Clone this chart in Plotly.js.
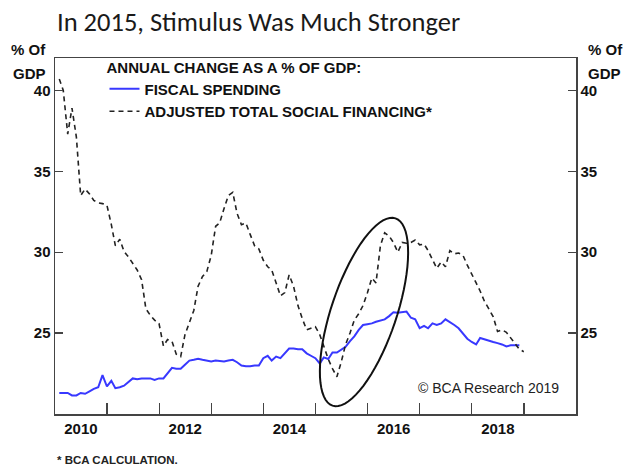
<!DOCTYPE html>
<html>
<head>
<meta charset="utf-8">
<script src="https://cdn.plot.ly/plotly-3.0.1.min.js"></script>
<style>
html,body{margin:0;padding:0;background:#fff;}
#chart{width:629px;height:467px;}
</style>
</head>
<body>
<div id="chart"></div>
<script>
// Monthly observations, first value = Jan 2010
const firstYear = 2010;
const tsfValues = [
  40.7, 40.0, 37.3, 38.9, 37.1, 33.5, 33.9, 33.6, 33.2, 33.05, 33.0, 32.9,
  31.7, 30.4, 30.8, 30.05, 29.7, 29.3, 28.9, 28.3, 26.5, 26.1, 25.8, 25.6,
  24.2, 24.6, 24.5, 23.7, 23.55, 24.9, 25.6, 26.4, 27.9, 28.5, 28.8, 29.8,
  31.6, 31.8, 32.7, 33.5, 33.7, 32.4, 31.7, 31.8, 31.1, 30.4, 30.2, 29.5,
  29.1, 28.9, 28.1, 27.3, 27.5, 28.6, 27.9, 26.7, 25.9, 25.2, 25.3, 25.4,
  24.9, 24.2, 23.4, 22.8, 22.3, 23.2, 24.3, 25.0, 25.8, 26.2, 26.7, 27.5,
  28.4, 28.1, 30.4, 31.2, 31.0, 30.6, 30.0, 30.6, 30.55, 30.6, 30.75, 30.45,
  30.5, 30.1, 29.5, 29.0, 29.4, 29.1, 30.1, 29.9, 29.95, 29.8, 29.2, 28.6,
  28.1, 27.6, 26.95, 26.5, 26.0, 25.1, 25.2, 25.05, 24.7, 24.4, 24.0, 23.85
];
const fiscalValues = [
  21.3, 21.3, 21.3, 21.15, 21.15, 21.3, 21.25, 21.4, 21.55, 21.65, 22.4, 21.7,
  22.05, 21.6, 21.65, 21.75, 21.95, 22.2, 22.15, 22.2, 22.2, 22.2, 22.1, 22.2,
  22.2, 22.5, 22.85, 22.8, 22.8, 23.05, 23.3, 23.35, 23.42, 23.35, 23.3, 23.25,
  23.3, 23.28, 23.25, 23.3, 23.35, 23.2, 23.0, 22.95, 22.95, 23.0, 23.0, 23.45,
  23.6, 23.3, 23.55, 23.45, 23.75, 24.05, 24.05, 24.0, 24.0, 23.75, 23.6, 23.45,
  23.12, 23.5, 23.4, 23.8, 23.8, 23.95, 24.15, 24.5, 24.8, 25.2, 25.5, 25.55,
  25.6, 25.7, 25.8, 25.85, 26.05, 26.29, 26.25, 26.28, 26.33, 25.95, 25.85, 25.3,
  25.45, 25.3, 25.6, 25.5, 25.6, 25.85, 25.7, 25.5, 25.3, 25.0, 24.65, 24.45,
  24.3, 24.7, 24.6, 24.55, 24.45, 24.38, 24.3, 24.17, 24.25, 24.25, 24.25
];
const yTickVals = [25, 30, 35, 40];
const xLabelYears = [2010, 2012, 2014, 2016, 2018];

function monthEnd(i) { // i = 0 -> end of Jan of firstYear
  const d = new Date(Date.UTC(firstYear, i + 1, 0));
  return d.toISOString().slice(0, 10);
}
const tsfDates = tsfValues.map((v, i) => monthEnd(i));
const fiscalDates = fiscalValues.map((v, i) => monthEnd(i));

const FONT = 'Liberation Sans, Arial, sans-serif';
const W = 629, H = 467;
const M = {l: 55, r: 53, t: 58, b: 53};
const PW = W - M.l - M.r, PH = H - M.t - M.b;

// Ellipse highlight (pixel geometry converted to paper coords)
function ellipsePath(cx, cy, a, b, thetaDeg) {
  const th = thetaDeg * Math.PI / 180;
  let p = '';
  for (let k = 0; k <= 72; k++) {
    const t = k / 72 * 2 * Math.PI;
    const px = cx + a * Math.cos(t) * Math.cos(th) - b * Math.sin(t) * Math.sin(th);
    const py = cy - (a * Math.cos(t) * Math.sin(th) + b * Math.sin(t) * Math.cos(th));
    const xp = (px - M.l) / PW, yp = (H - M.b - py) / PH;
    p += (k === 0 ? 'M' : 'L') + xp.toFixed(4) + ',' + yp.toFixed(4);
  }
  return p + 'Z';
}

const traces = [
  {
    x: fiscalDates, y: fiscalValues, type: 'scatter', mode: 'lines',
    name: 'FISCAL SPENDING', legendgroup: 'a',
    line: {color: '#3838ff', width: 2}
  },
  {
    x: tsfDates, y: tsfValues, type: 'scatter', mode: 'lines',
    name: 'ADJUSTED TOTAL SOCIAL FINANCING*', legendgroup: 'b',
    line: {color: '#222', width: 1.6, dash: '5px,4px'}
  },
  {
    x: [tsfDates[0]], y: [tsfValues[0]], yaxis: 'y2', type: 'scatter', mode: 'none',
    showlegend: false, hoverinfo: 'skip'
  }
];

const axisFont = {family: FONT, size: 15, color: '#111', weight: 'bold'};
const yCommon = {
  range: [20, 42], tickvals: yTickVals, ticks: 'inside', ticklen: 8,
  tickcolor: '#444', tickwidth: 1.2, showline: true, linecolor: '#444', linewidth: 1.5,
  showgrid: false, zeroline: false, tickfont: axisFont, fixedrange: true
};

const layout = {
  width: W, height: H,
  margin: M,
  paper_bgcolor: '#fff', plot_bgcolor: '#fff',
  title: {
    text: 'In 2015, Stimulus Was Much Stronger',
    font: {family: 'Carlito, Lato, sans-serif', size: 26.5, color: '#1a1a1a'},
    x: 57 / W, xanchor: 'left', xref: 'container',
    y: 1 - 22 / H, yanchor: 'middle', yref: 'container'
  },
  showlegend: true,
  legend: {
    x: 0.095, y: 1 + 5 / PH, xanchor: 'left', yanchor: 'top',
    bgcolor: 'rgba(0,0,0,0)', borderwidth: 0,
    font: axisFont, traceorder: 'grouped', tracegroupgap: 0,
    itemwidth: 30,
    title: {text: 'ANNUAL CHANGE AS A % OF GDP:', side: 'top', font: axisFont}
  },
  xaxis: {
    type: 'date',
    range: ['2010-01-01', '2020-01-01'],
    tickvals: xLabelYears.map(y => y + '-07-02'),
    ticktext: xLabelYears.map(String),
    ticks: 'inside', ticklen: 0, tickcolor: 'rgba(0,0,0,0)',
    minor: {dtick: 'M12', tick0: '2010-01-01', ticks: 'inside', ticklen: 11, tickcolor: '#444', tickwidth: 1.2, showgrid: false},
    showline: true, linecolor: '#444', linewidth: 1.5, mirror: true,
    showgrid: false, zeroline: false, tickfont: axisFont, fixedrange: true
  },
  yaxis: Object.assign({}, yCommon, {side: 'left'}),
  yaxis2: Object.assign({}, yCommon, {side: 'right', overlaying: 'y'}),
  shapes: [
    {type: 'path', xref: 'paper', yref: 'paper', path: ellipsePath(364, 312, 98.8, 32.6, 71.4),
     line: {color: '#111', width: 2}, fillcolor: 'rgba(0,0,0,0)'}
  ],
  annotations: [
    {text: '% Of', xref: 'paper', yref: 'paper', x: -7 / PW, xanchor: 'right', y: 1 + 8 / PH, yanchor: 'middle', showarrow: false, font: axisFont},
    {text: 'GDP', xref: 'paper', yref: 'paper', x: -7 / PW, xanchor: 'right', y: 1 - 15 / PH, yanchor: 'middle', showarrow: false, font: axisFont},
    {text: '% Of', xref: 'paper', yref: 'paper', x: 1 + 10 / PW, xanchor: 'left', y: 1 + 8 / PH, yanchor: 'middle', showarrow: false, font: axisFont},
    {text: 'GDP', xref: 'paper', yref: 'paper', x: 1 + 10 / PW, xanchor: 'left', y: 1 - 15 / PH, yanchor: 'middle', showarrow: false, font: axisFont},
    {text: '© BCA Research 2019', xref: 'paper', yref: 'paper', x: (561 - M.l) / PW, xanchor: 'right', y: (H - M.b - 388) / PH, yanchor: 'middle', showarrow: false,
     font: {family: FONT, size: 14, color: '#222'}},
    {text: '* BCA CALCULATION.', xref: 'paper', yref: 'paper', x: 0, xanchor: 'left', y: -(460 - (H - M.b)) / PH, yanchor: 'middle', showarrow: false,
     font: {family: FONT, size: 11.5, color: '#222', weight: 'bold'}}
  ]
};

Plotly.newPlot('chart', traces, layout, {staticPlot: true, displayModeBar: false});
</script>
</body>
</html>
